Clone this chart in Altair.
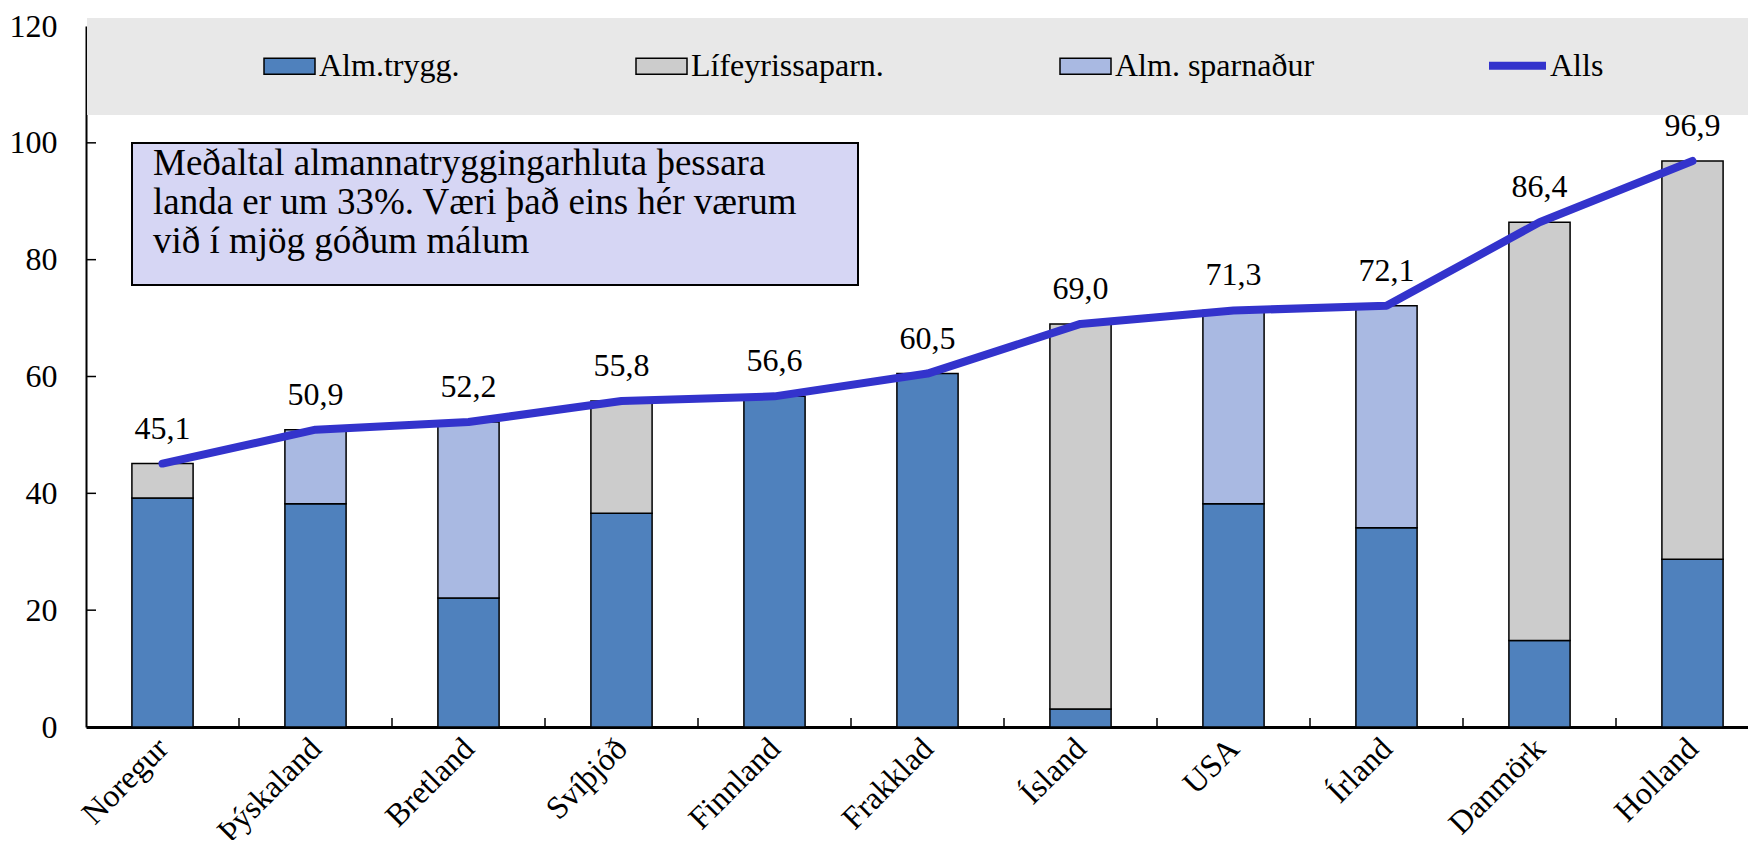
import altair as alt
import pandas as pd

countries = ["Noregur", "Þýskaland", "Bretland", "Svíþjóð", "Finnland", "Frakklad",
             "Ísland", "USA", "Írland", "Danmörk", "Holland"]
alm_trygg = [39.2, 38.2, 22.1, 36.6, 56.6, 60.5, 3.1, 38.2, 34.1, 14.8, 28.7]
lifeyris = [5.9, 0, 0, 19.2, 0, 0, 65.9, 0, 0, 71.6, 68.2]
alm_sparn = [0, 12.7, 30.1, 0, 0, 0, 0, 33.1, 38.0, 0, 0]
alls = [45.1, 50.9, 52.2, 55.8, 56.6, 60.5, 69.0, 71.3, 72.1, 86.4, 96.9]
series = ["Alm.trygg.", "Lífeyrissaparn.", "Alm. sparnaður"]
colors = ["#4F81BD", "#CCCCCC", "#A9B9E2"]
line_series = ["Alls"]
line_color = ["#3333CC"]
y_ticks = [0, 20, 40, 60, 80, 100, 120]
inner_y_ticks = [20, 40, 60, 80, 100]
note_lines = ["Meðaltal almannatryggingarhluta þessara",
              "landa er um 33%. Væri það eins hér værum",
              "við í mjög góðum málum"]

W, H = 1683, 701
FONT = "Liberation Serif"

rows = []
for i, c in enumerate(countries):
    for k, (s, vals) in enumerate(zip(series, [alm_trygg, lifeyris, alm_sparn])):
        if vals[i] > 0:
            rows.append({"country": c, "series": s, "value": vals[i], "ord": k})
bars_df = pd.DataFrame(rows)
tot_df = pd.DataFrame({"country": countries, "total": alls,
                       "label": [f"{v:.1f}".replace(".", ",") for v in alls],
                       "series": line_series * len(countries)})
xt_df = pd.DataFrame({"country": countries[1:]})
yt_df = pd.DataFrame({"v": inner_y_ticks})
one = pd.DataFrame({"a": [0]})

xscale = alt.Scale(domain=countries, paddingInner=0, paddingOuter=0)
yscale = alt.Scale(domain=[0, 120], nice=False)

legend_bars = alt.Legend(
    title=None, orient="none", legendX=177, legendY=13.5, direction="horizontal",
    padding=0, columnPadding=173, labelOffset=3, labelFontSize=32, labelFont=FONT,
    labelColor="black", symbolSize=2601, labelLimit=400,
    symbolType="M-1,-0.31H1V0.31H-1Z", symbolStrokeColor="black",
    symbolStrokeWidth=1.5, symbolOpacity=1)
legend_line = alt.Legend(
    title=None, orient="none", legendX=1399, legendY=7.3, direction="horizontal",
    padding=0, labelOffset=0, labelFontSize=32, labelFont=FONT, labelColor="black",
    symbolSize=3249, symbolType="M-1,0H1", symbolStrokeWidth=8, labelLimit=400)

x_enc = alt.X("country:N", scale=xscale, sort=countries, title=None,
              axis=alt.Axis(domainColor="black", domainWidth=3, ticks=False, tickSize=0,
                            labelAngle=-45, labelAlign="right", labelBaseline="middle",
                            labelPadding=16, labelFontSize=32, labelFont=FONT,
                            labelColor="black", grid=True, gridColor="white",
                            gridWidth=2, tickBand="extent"))

band = alt.Chart(one).mark_rect(color="#E8E8E8").encode(
    x=alt.value(1), x2=alt.value(W), y=alt.value(-8), y2=alt.value(89))

bars = alt.Chart(bars_df).mark_bar(width={"band": 0.4}, stroke="black", strokeWidth=1.5).encode(
    x=x_enc,
    y=alt.Y("value:Q", stack="zero", scale=yscale, title=None,
            axis=alt.Axis(values=y_ticks, domainColor="black", domainWidth=2, ticks=False,
                          tickSize=0, labelPadding=29, labelFontSize=32, labelFont=FONT,
                          labelColor="black", grid=True, gridColor="white", gridWidth=2)),
    color=alt.Color("series:N", scale=alt.Scale(domain=series, range=colors),
                    legend=legend_bars),
    order=alt.Order("ord:Q"),
)

line = alt.Chart(tot_df).mark_line(strokeWidth=8, strokeCap="round", strokeJoin="round").encode(
    x=alt.X("country:N", scale=xscale, sort=countries),
    y=alt.Y("total:Q", scale=yscale),
    stroke=alt.Stroke("series:N", scale=alt.Scale(domain=line_series, range=line_color),
                      legend=legend_line),
)

labels = alt.Chart(tot_df).mark_text(dy=-35, fontSize=32, font=FONT, color="black").encode(
    x=alt.X("country:N", scale=xscale, sort=countries),
    y=alt.Y("total:Q", scale=yscale),
    text="label:N",
)

xticks = alt.Chart(xt_df).mark_rule(color="black", strokeWidth=1.5).encode(
    x=alt.X("country:N", scale=xscale, sort=countries, bandPosition=0),
    y=alt.value(H - 9), y2=alt.value(H))

yticks = alt.Chart(yt_df).mark_rule(color="black", strokeWidth=1.5).encode(
    y=alt.Y("v:Q", scale=yscale), x=alt.value(0), x2=alt.value(10))

note_box = alt.Chart(one).mark_rect(fill="#D6D6F4", stroke="black", strokeWidth=2).encode(
    x=alt.value(46), x2=alt.value(772), y=alt.value(117), y2=alt.value(259))

note_text = alt.Chart(one).mark_text(align="left", baseline="alphabetic", fontSize=37,
                                     font=FONT, lineHeight=39, color="black").encode(
    x=alt.value(67), y=alt.value(149), text=alt.value(note_lines))

chart = alt.layer(band, bars, line, labels, xticks, yticks, note_box, note_text).properties(
    width=W, height=H,
    autosize=alt.AutoSizeParams(type="none"),
    padding={"left": 78, "top": 18, "right": -21, "bottom": 113},
).configure_view(fill="#F0FFFF", stroke=None).configure(font=FONT)

chart.save("out.html", embed_options={"renderer": "svg", "actions": False})
